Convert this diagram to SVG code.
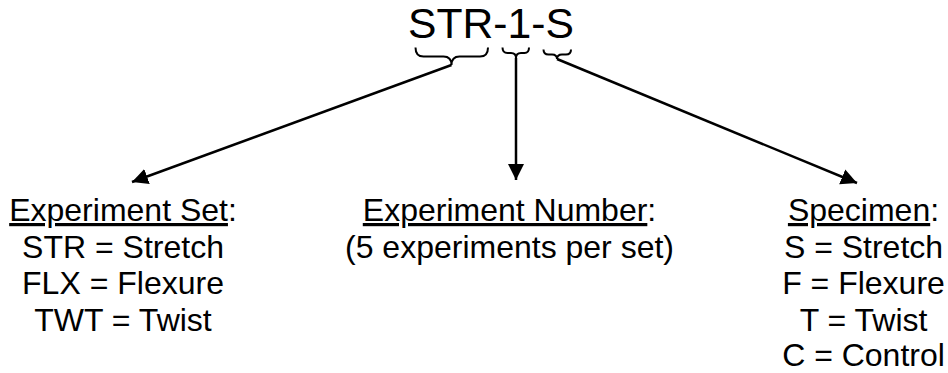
<svg xmlns="http://www.w3.org/2000/svg" width="948" height="373" viewBox="0 0 948 373">
<defs>
<style>
text{font-family:"Liberation Sans",Arial,sans-serif;fill:#000;text-anchor:middle}
.t{font-size:42.67px}
.b{font-size:32px}
.u{text-decoration:underline}
.brace{fill:none;stroke:#000;stroke-width:2}
.conn{fill:none;stroke:#000;stroke-width:2.5}
</style>
<marker id="ah" markerUnits="userSpaceOnUse" markerWidth="18" markerHeight="18" viewBox="0 0 18 18" refX="16" refY="9" orient="auto">
<path d="M0,1 L16,9 L0,17 Z" fill="#000"/>
</marker>
</defs>
<rect width="948" height="373" fill="#fff"/>
<g id="code">
<text class="t" x="491" y="37.5">STR-1-S</text>
</g>
<g id="braces">
<path class="brace" d="M415.5,47.5 Q415.5,56.5 423.5,56.5 L443.5,56.5 Q451.5,56.5 451.5,65 Q451.5,56.5 459.5,56.5 L480,56.5 Q488,56.5 488,47.5"/>
<path class="brace" d="M502.5,47.5 Q502.5,53 507.5,53 L511,53 Q516,53 516,58 Q516,53 521,53 L524.5,53 Q529,53 529,47.5"/>
<path class="brace" d="M543.5,49.5 Q543.5,54.5 548.5,54.5 L552,54.5 Q557,54.5 557,59 Q557,54.5 562,54.5 L566,54.5 Q571,54.5 571,49.5"/>
</g>
<g id="connectors">
<line class="conn" x1="451.5" y1="65" x2="132" y2="182" marker-end="url(#ah)"/>
<line class="conn" x1="516" y1="58" x2="516" y2="180" marker-end="url(#ah)"/>
<line class="conn" x1="557" y1="59" x2="857" y2="183" marker-end="url(#ah)"/>
</g>
<g id="experiment-set">
<text class="b" x="123" y="221"><tspan class="u">Experiment Set</tspan>:</text>
<text class="b" x="123" y="257.5">STR = Stretch</text>
<text class="b" x="123" y="294">FLX = Flexure</text>
<text class="b" x="123" y="330.5">TWT = Twist</text>
</g>
<g id="experiment-number">
<text class="b" x="509.5" y="221"><tspan class="u">Experiment Number</tspan>:</text>
<text class="b" x="509.5" y="257.5">(5 experiments per set)</text>
</g>
<g id="specimen">
<text class="b" x="863.5" y="221"><tspan class="u">Specimen</tspan>:</text>
<text class="b" x="863.5" y="257.5">S = Stretch</text>
<text class="b" x="863.5" y="294">F = Flexure</text>
<text class="b" x="863.5" y="330.5">T = Twist</text>
<text class="b" x="863.5" y="366">C = Control</text>
</g>
</svg>
